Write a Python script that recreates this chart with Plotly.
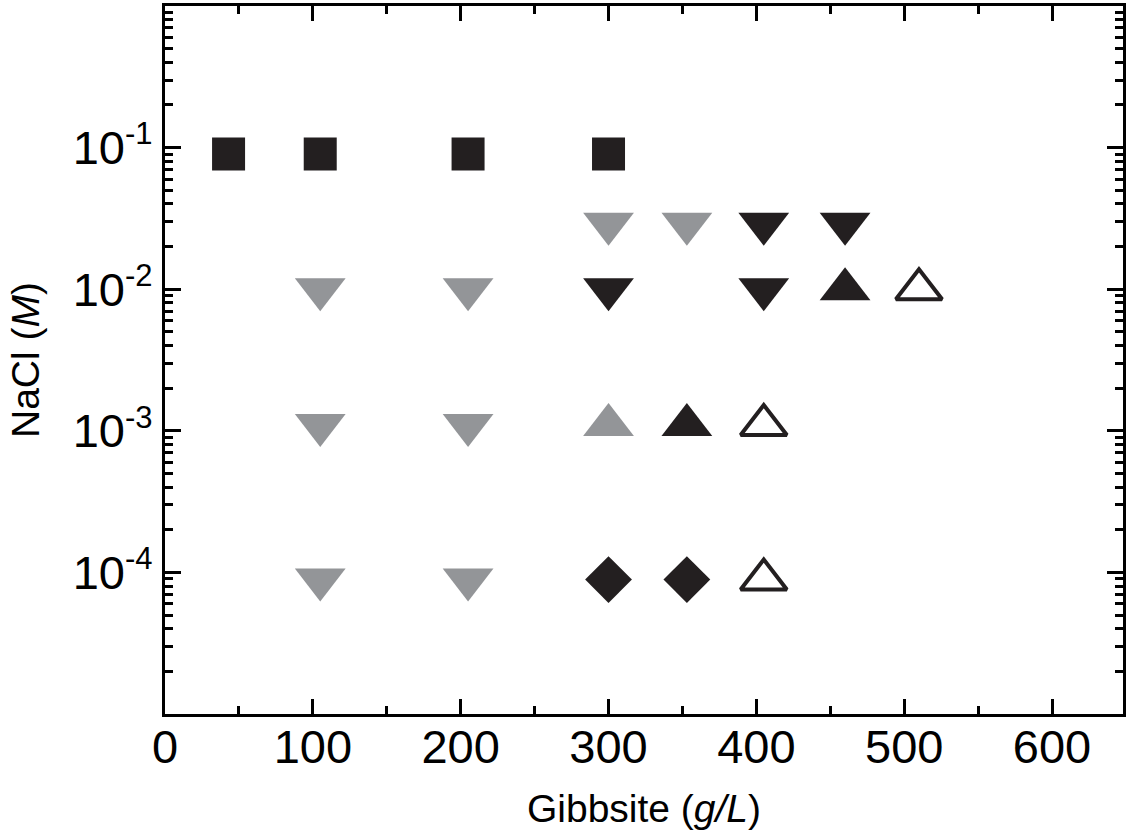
import plotly.graph_objects as go

# ---- data ----
square_x = [43, 105, 205, 300]
square_y = [0.09, 0.09, 0.09, 0.09]

gray_down_x = [300, 353, 105, 205, 105, 205, 105, 205]
gray_down_y = [0.029, 0.029, 0.01, 0.01, 0.0011, 0.0011, 0.000089, 0.000089]

black_down_x = [405, 460, 300, 405]
black_down_y = [0.029, 0.029, 0.01, 0.01]

black_up_x = [460, 353]
black_up_y = [0.01, 0.0011]

gray_up_x = [300]
gray_up_y = [0.0011]

open_up_x = [510, 405, 405]
open_up_y = [0.01, 0.0011, 0.000089]

diamond_x = [300, 353]
diamond_y = [0.000089, 0.000089]

x_tickvals = [0, 100, 200, 300, 400, 500, 600]
x_minorvals = [50, 150, 250, 350, 450, 550]
y_tickvals = [1e-4, 1e-3, 1e-2, 1e-1]
y_exponents = ["-4", "-3", "-2", "-1"]

DARK = "#231f20"
GRAY = "#939598"

fig = go.Figure()

def add(xs, ys, symbol, size, color, line_color=None, line_width=0):
    fig.add_trace(go.Scatter(
        x=xs, y=ys, mode="markers",
        marker=dict(symbol=symbol, size=size, color=color,
                    line=dict(color=line_color or color, width=line_width)),
        hoverinfo="skip",
    ))

add(square_x, square_y, "square", 33, DARK)
add(gray_down_x, gray_down_y, "triangle-down", 44, GRAY)
add(black_down_x, black_down_y, "triangle-down", 44, DARK)
add(black_up_x, black_up_y, "triangle-up", 44, DARK)
add(gray_up_x, gray_up_y, "triangle-up", 44, GRAY)
add(open_up_x, open_up_y, "triangle-up-open", 40, DARK, DARK, 4)
add(diamond_x, diamond_y, "diamond", 36, DARK)

y_minorvals = [k * 10 ** e for e in range(-5, 0) for k in range(2, 10)]
y_ticktext = ["10<sup><span style='font-size:31px'>%s</span></sup>" % e for e in y_exponents]

FONT = "Liberation Sans, Arial, sans-serif"

fig.update_layout(
    width=1126, height=838,
    margin=dict(l=165, r=0, t=6, b=124),
    paper_bgcolor="white", plot_bgcolor="white",
    showlegend=False,
    font=dict(family=FONT, color="black"),
)

fig.update_xaxes(
    range=[0, 648],
    tickmode="array", tickvals=x_tickvals,
    ticks="inside", ticklen=15, tickwidth=3, tickcolor="black",
    showline=True, linewidth=3, linecolor="black", mirror="ticks",
    showgrid=False, zeroline=False,
    tickfont=dict(size=47, family=FONT),
    ticklabelstandoff=-10,
    minor=dict(ticks="inside", ticklen=8, tickwidth=3, tickcolor="black",
               tickmode="array", tickvals=x_minorvals, showgrid=False),
    title=dict(text="Gibbsite (<i>g/L</i>)", font=dict(size=39, family=FONT), standoff=23),
)

fig.update_yaxes(
    type="log", range=[-5, 0],
    tickmode="array", tickvals=y_tickvals, ticktext=y_ticktext,
    ticks="inside", ticklen=16, tickwidth=3, tickcolor="black",
    showline=True, linewidth=3, linecolor="black", mirror="ticks",
    showgrid=False, zeroline=False,
    tickfont=dict(size=47, family=FONT),
    minor=dict(ticks="inside", ticklen=8, tickwidth=3, tickcolor="black",
               tickmode="array", tickvals=y_minorvals, showgrid=False),
    title=dict(text="NaCl (<i>M</i>)", font=dict(size=39, family=FONT), standoff=22),
)

fig.write_html("out.html")
